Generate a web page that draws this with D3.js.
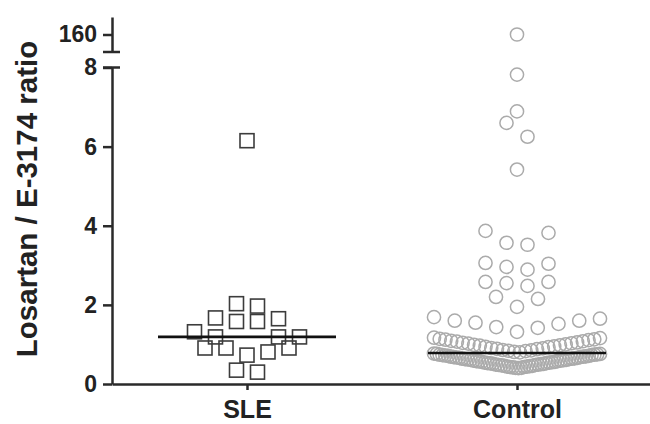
<!DOCTYPE html>
<html>
<head>
  <meta charset="utf-8">
  <title>Losartan / E-3174 ratio</title>
  <script src="https://d3js.org/d3.v7.min.js"></script>
  <style>
    body { margin: 0; background: #fff; }
    text { font-family: "Liberation Sans", Arial, Helvetica, sans-serif; font-weight: bold; fill: #222; }
  </style>
</head>
<body>
<svg id="chart" width="650" height="424"></svg>
<script>
  // data
  var groups = ["SLE", "Control"];
  var sleValues = [6.15, 2.03, 1.97, 1.67, 1.65, 1.58, 1.58, 1.32, 1.19, 1.19, 1.19,
                   0.91, 0.91, 0.91, 0.81, 0.73, 0.35, 0.30];
  // control: scattered points above the dense band
  var controlHigh = [160, 7.82, 6.89, 6.6, 6.25, 5.42, 3.87, 3.82, 3.57, 3.52, 3.06, 3.04,
                     2.96, 2.89, 2.58, 2.58, 2.55, 2.48, 2.2, 2.15, 1.95, 1.69, 1.65, 1.6,
                     1.6, 1.55, 1.52, 1.44, 1.42, 1.32];
  // control: upper half of the dense band
  var controlMid = [0.80, 0.81, 0.83, 0.84, 0.85, 0.86, 0.88, 0.89, 0.90, 0.91,
                    0.93, 0.94, 0.95, 0.97, 0.98, 0.99, 1.00, 1.02, 1.03, 1.04,
                    1.05, 1.07, 1.08, 1.09, 1.11, 1.12, 1.13, 1.14, 1.16, 1.17];
  // control: lower half of the dense band
  var controlLow = [0.40, 0.41, 0.41, 0.42, 0.43, 0.43, 0.44, 0.44, 0.45, 0.46,
                    0.46, 0.47, 0.48, 0.48, 0.49, 0.49, 0.50, 0.51, 0.51, 0.52,
                    0.53, 0.53, 0.54, 0.54, 0.55, 0.56, 0.56, 0.57, 0.58, 0.58,
                    0.59, 0.59, 0.60, 0.61, 0.61, 0.62, 0.63, 0.63, 0.64, 0.64,
                    0.65, 0.66, 0.66, 0.67, 0.68, 0.68, 0.69, 0.69, 0.70, 0.71,
                    0.71, 0.72, 0.73, 0.73, 0.74, 0.74, 0.75, 0.76, 0.76, 0.77];
  var yTicksLow = [0, 2, 4, 6, 8];
  var yTicksHigh = [160];
  var yLabel = "Losartan / E-3174 ratio";

  var svg = d3.select("#chart");
  var axisX = 112, axisY = 384;

  // Scales
  var xScale = d3.scalePoint().domain(groups).range([axisX, 652]).padding(0.5);
  var yLow = d3.scaleLinear().domain([0, 8]).range([axisY, 67.5]);
  var yHigh = d3.scaleLinear().domain([150, 170]).range([52, 17]);
  function yPos(v) { return v > 8 ? yHigh(v) : yLow(v); }

  // column scatter layout: rows of close values, spread from the centre out,
  // busiest rows first, other rows pushed outwards when they would hit one
  function columnLayout(values) {
    var step = 21, maxW = 166, binH = 0.38, minD = 15;
    var sorted = values.slice().sort(d3.ascending);
    var bins = [], cur = null;
    sorted.forEach(function (v) {
      if (!cur || v > 8 || v - cur[0] >= binH) { cur = [v]; bins.push(cur); }
      else cur.push(v);
    });
    bins = bins.slice().sort(function (a, b) {
      return (b.length - a.length) || (b[0] - a[0]);
    });
    var placed = [];
    bins.forEach(function (bin) {
      var n = bin.length;
      var slots = function (a, s) {
        var out = [], k;
        if (a === 0) { out.push(0); k = 2; } else k = a;
        while (out.length < n) {
          out.push(k * s / 2);
          if (out.length < n) out.push(-k * s / 2);
          k += 2;
        }
        return out;
      };
      var best;
      if (n > 9) {
        best = slots(n % 2 ? 0 : 1, maxW / (n - 1));
      } else {
        var s = Math.min(step, maxW / Math.max(1, n - 1));
        for (var a = (n % 2 ? 0 : 1); a < 14; a++) {
          var cand = slots(a, s);
          var hit = cand.some(function (dx, i) {
            var py = yPos(bin[i]);
            return placed.some(function (p) {
              return Math.hypot(p.dx - dx, p.y - py) < minD;
            });
          });
          if (!hit) { best = cand; break; }
        }
        if (!best) best = slots(n % 2 ? 0 : 1, s);
      }
      bin.forEach(function (v, i) {
        placed.push({ value: v, dx: best[i], y: yPos(v) });
      });
    });
    return placed;
  }

  var slePts = columnLayout(sleValues);
  var ctlValues = controlHigh.concat(controlMid, controlLow);
  var ctlPts = columnLayout(ctlValues);

  // Points
  var sq = 14;
  svg.append("g").selectAll("rect")
      .data(slePts)
      .enter()
    .append("rect")
      .attr("x", function (d) { return xScale("SLE") + d.dx - sq / 2; })
      .attr("y", function (d) { return d.y - sq / 2; })
      .attr("width", sq)
      .attr("height", sq)
      .attr("fill", "none")
      .attr("stroke", "#3c3c3c")
      .attr("stroke-width", 1.6);

  svg.append("g").selectAll("circle")
      .data(ctlPts)
      .enter()
    .append("circle")
      .attr("cx", function (d) { return xScale("Control") + d.dx; })
      .attr("cy", function (d) { return d.y; })
      .attr("r", 6.6)
      .attr("fill", "none")
      .attr("stroke", "#ababab")
      .attr("stroke-width", 1.5);

  // Median lines
  var medians = [
    { group: "SLE", value: d3.median(sleValues) },
    { group: "Control", value: d3.median(ctlValues) }
  ];
  svg.append("g").selectAll("line")
      .data(medians)
      .enter()
    .append("line")
      .attr("x1", function (d) { return xScale(d.group) - 89; })
      .attr("x2", function (d) { return xScale(d.group) + 89; })
      .attr("y1", function (d) { return yLow(d.value); })
      .attr("y2", function (d) { return yLow(d.value); })
      .attr("stroke", "#111")
      .attr("stroke-width", 2.6);

  // Y-axis (two segments with a break)
  var yAxisLow = d3.axisLeft(yLow).tickValues(yTicksLow).tickSize(9).tickSizeOuter(0).tickPadding(6);
  var yAxisHigh = d3.axisLeft(yHigh).tickValues(yTicksHigh).tickSize(9).tickSizeOuter(0).tickPadding(6);
  [yAxisLow, yAxisHigh].forEach(function (ax) {
    var g = svg.append("g")
        .attr("transform", "translate(" + axisX + ",0)")
        .call(ax);
    g.selectAll("path, line").attr("stroke", "#2a2a2a").attr("stroke-width", 2.5);
    g.selectAll("text").style("font-size", "23px").attr("fill", "#222");
  });
  // break marks
  svg.append("g").selectAll("line")
      .data([yHigh.range()[0], yLow.range()[1]])
      .enter()
    .append("line")
      .attr("x1", axisX - 9)
      .attr("x2", axisX + 8)
      .attr("y1", function (d) { return d; })
      .attr("y2", function (d) { return d; })
      .attr("stroke", "#2a2a2a")
      .attr("stroke-width", 2.5);

  // X-axis
  var xAxis = d3.axisBottom(xScale).tickSize(6).tickSizeOuter(0).tickPadding(10.5);
  var gx = svg.append("g")
      .attr("transform", "translate(0," + axisY + ")")
      .call(xAxis);
  gx.selectAll("path, line").attr("stroke", "#2a2a2a").attr("stroke-width", 2.5);
  gx.selectAll("text").style("font-size", "25px").attr("fill", "#222");

  // Y-axis label
  svg.append("text")
      .attr("transform", "translate(37,199) rotate(-90)")
      .style("text-anchor", "middle")
      .style("font-size", "29.5px")
      .text(yLabel);
</script>
</body>
</html>
